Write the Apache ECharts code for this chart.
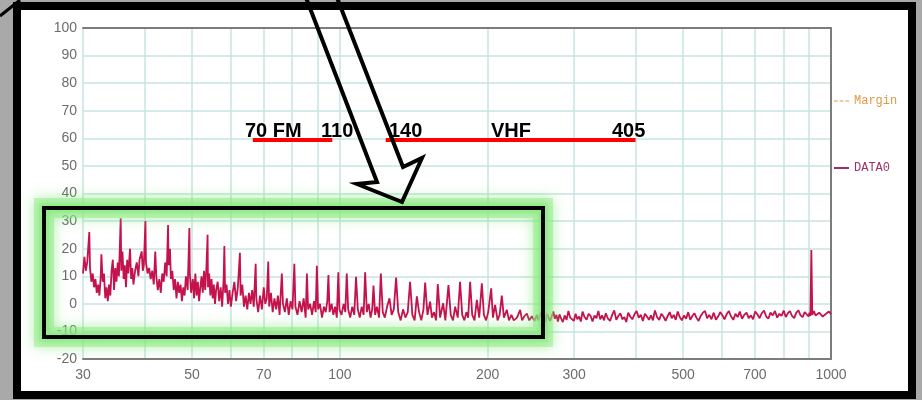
<!DOCTYPE html>
<html><head><meta charset="utf-8">
<script src="https://cdn.jsdelivr.net/npm/echarts@6/dist/echarts.min.js"></script>
<style>html,body{margin:0;padding:0;background:#a9a9a9;}#c{width:922px;height:400px;}</style>
</head><body><div id="c"></div>
<script>
// ---- data ----
const yMin = -20, yMax = 100, yStep = 10;
const xMin = 30, xMax = 1000;
const xGridValues = [30,40,50,60,70,80,90,100,200,300,400,500,600,700,800,900,1000];
const xLabelValues = [30,50,70,100,200,300,500,700,1000];
const legendNames = ['Margin','DATA0'];
const marginData = [];
// [frequency MHz, level dB]
const data0 = [
[30.0,11],[30.2,17],[30.4,12],[30.6,15],[30.9,26],[31.0,13],[31.2,8],[31.4,11],[31.6,6],[31.8,9],
[32.0,4],[32.2,7],[32.4,3],[32.6,10],[32.7,18],[32.9,8],[33.1,11],[33.3,2],[33.5,6],[33.7,1],
[33.9,7],[34.1,3],[34.3,12],[34.5,16],[34.7,5],[34.9,13],[35.1,8],[35.3,15],[35.5,10],[35.8,31],
[35.9,12],[36.1,19],[36.3,9],[36.5,14],[36.7,6],[36.9,16],[37.1,11],[37.4,20],[37.6,9],[37.8,13],
[38.0,7],[38.3,12],[38.6,15],[38.9,10],[39.1,16],[39.5,19],[39.7,12],[39.9,14],[40.2,30],[40.3,15],
[40.6,11],[40.9,13],[41.2,9],[41.5,12],[41.8,7],[42.1,19],[42.3,10],[42.6,5],[42.9,9],[43.2,4],
[43.5,11],[43.8,8],[44.1,15],[44.4,10],[44.7,28.6],[44.8,14],[45.1,20],[45.3,9],[45.6,12],[45.9,5],
[46.2,9],[46.5,2],[46.8,8],[47.1,4],[47.4,7],[47.7,1],[48.0,6],[48.3,3],[48.6,10],[49.0,5],
[49.4,27.5],[49.5,11],[49.8,4],
[50.2,9],[50.5,2],[50.8,11],[51.1,3],[51.4,8],[51.7,1],[52.0,6],[52.3,10],[52.6,4],[52.9,12],
[53.2,5],[53.5,13],[53.8,25],[53.9,6],[54.2,11],[54.5,3],[54.8,9],[55.1,2],[55.4,7],[55.7,0],
[56.0,5],[56.4,8],[56.8,1],[57.2,6],[57.6,-1],[58.0,9],[58.2,21],[58.4,4],[58.8,7],[59.2,0],
[59.6,5],[60.0,-1],[60.5,4],[61.0,8],[61.5,1],[62.0,6],[62.6,18.5],[62.8,3],[63.3,7],[63.8,-1],
[64.3,3],[64.8,-2],[65.3,4],[65.8,0],[66.3,5],[66.8,-1],[67.4,14.5],[67.6,2],[68.2,-3],[68.8,3],
[69.4,-2],[70.0,6],[70.5,0],[71.0,2],[71.5,15.3],[71.8,-1],[72.4,4],[73.0,-3],[73.6,2],[74.2,-2],
[74.8,3],[75.4,-4],[76.2,11],[76.6,0],[77.3,-3],[78.0,2],[78.7,-4],[79.4,1],[80.1,-2],[80.8,14.5],
[81.2,-1],[82.0,-4],[82.8,1],[83.6,-3],[84.4,2],[85.2,-5],[85.7,11],[86.2,-2],[87.0,0],[87.8,-4],
[88.6,1],[89.3,-3],[89.8,13.8],[90.3,-2],[91.1,0],[92.0,-5],[92.8,-1],[93.6,-3],[94.3,1],[94.8,10.4],
[95.3,-3],[96.2,0],[97.0,-4],[97.8,-1],[98.6,-5],[99.3,11.4],[99.8,-2],
[100.8,-4],[101.8,0],[102.6,-3],[103.3,11],[104.0,-2],[105.0,-5],[106.0,-1],[107.0,-4],[107.9,9.8],[108.8,-2],
[109.8,-5],[110.8,-1],[111.8,-4],[112.6,11.4],[113.5,-3],[114.5,0],[115.5,-5],[116.4,-2],[117.1,6.6],[118.0,-4],
[119.0,-1],[120.2,-5],[121.2,11],[122.3,-3],[123.5,-5],[124.8,-1],[126.2,2],[127.5,-4],[128.8,-2],[130.2,9.5],
[131.5,-3],[133.0,-6],[134.5,-2],[136.0,-5],[137.5,-3],[139.0,8],[140.5,-4],[142.0,-6],[143.5,2.7],[145.0,-3],
[146.5,-6],[148.0,-2],[149.2,7.7],[150.8,-4],[152.7,0.8],[154.0,-5],[155.5,-3],[157.0,-6],[158.3,7.2],[160.0,-5],
[162.3,0.2],[164.0,-6],[166.4,6.8],[168.2,-4],[170.0,-6],[171.7,-1],[173.8,-5],[175.7,8],[177.5,-4],[179.3,-6],
[181.0,-3],[182.5,-5],[184.2,8],[186.0,-4],[188.0,-6],[190.1,1.4],[192.2,-5],[194.6,7.4],[196.5,-4],[198.5,-6],
[200.5,-3],[203.3,5.6],[205.0,-5],[207.1,-0.4],[209.5,-6],[211.5,-4],[213.7,3],[215.8,-5],[218.8,-2.2],[221.0,-6],
[223.5,-4],[226.0,-6],[229.5,-5],[232.9,-2.2],[235.0,-6],[237.5,-4.5],[240.3,-3.5],[243.0,-6],[246.0,-4.5],[249.0,-6.2],
[252,-4],[253.5,-6],[255,-4.8],[256.5,-3.2],[258,-5.2],[260,-4.4],[262,-6.8],[264,-3.6],[266,-5],[268,-6.2],
[270,-4.6],[272,-2.8],[274,-5.4],[276,-4],[278,-6.4],[280,-3.8],[282,-5.2],[284.5,-6.6],[287,-4.2],[289.5,-5.8],
[292,-2.6],[294.5,-5],[297,-4.4],[299.5,-6.2],[302,-3.6],[304.5,-5.6],[307,-4.6],[309.5,-6.4],[312,-2.8],[315,-4.8],
[318,-5.8],[321,-3.6],[324,-4.4],[327,-6.4],[330,-4.2],[333,-5.2],[336,-2.6],[339,-5.6],[342,-4.2],[345,-6],
[348,-3.4],[351.5,-5.4],[355,-6.2],[358.5,-4],[362,-2.4],[365.5,-5.8],[369,-4.4],[372.5,-3.4],[376,-5.6],[379.5,-4.8],
[383,-6.6],[386.5,-3.2],[390,-4.6],[394,-5.6],[398,-3.8],[402,-2.6],[406,-5],[410,-4],[414,-6.2],[418,-3.6],
[422,-4.6],[426,-5.8],[430,-4.2],[434,-6],[438,-2.4],[442.5,-4.8],[447,-5.8],[451.5,-3.6],[456,-4.6],[460.5,-6.2],
[465,-4.4],[469.5,-3],[474,-5.2],[478.5,-4],[483,-5.8],[487.5,-2.8],[492,-4.8],[497,-6],[502,-4.2],[507,-5.4],
[512,-3],[517,-5.8],[522,-4.4],[527,-3.4],[532,-5],[537.5,-6.2],[543,-4.4],[548.5,-3.2],[554,-2.6],[559.5,-5.2],
[565,-4],[571,-5.6],[577,-3.2],[583,-5.8],[589,-4.6],[595,-3],[601,-4.2],[607,-5.6],[613,-3.8],[619.5,-2.6],
[626,-4.6],[632.5,-5.8],[639,-3.6],[645.5,-4.8],[652,-2.8],[659,-5.4],[666,-4],[673,-3.2],[680,-5.2],[687,-4.2],
[694,-5.6],[701,-2.8],[708,-3.8],[715.5,-5.2],[723,-3.4],[730.5,-2.4],[738,-4.6],[745.5,-5.4],[753,-3.2],[761,-4.2],
[769,-2.6],[777,-5],[785,-3.6],[793,-4.4],[801,-2.4],[809,-4.8],[817,-3.4],[825,-2.6],[833,-4.4],[841.5,-5.2],
[850,-3.2],[858.5,-2.4],[867,-4.2],[875.5,-4.8],[884,-3],[892,-2.6],[900,-4.6],[904,-3.2],[908,-4.4],[912,19.5],
[916,-4],[923,-2.6],[930,-4.2],[938,-4.8],[946,-3.2],[954,-2.8],[962,-4.6],[971,-5.2],[980,-3.4],[990,-2.8],[1000,-3.8]
];
// annotation bands (MHz) drawn at a level
const bandLevel = 59.6;
const fmBand = [66.5, 96.5];
const vhfBand = [124, 400];
const bandTexts = ['70 FM', '110', '140', 'VHF', '405'];

// ---- chart ----
const chart = echarts.init(document.getElementById('c'), null, {renderer:'canvas'});
const gridColor = '#c6e4e2';
const labelColor = '#6c6c6c';
const labelFont = 'Liberation Sans';
const marginColor = '#e09a45';
const dataColor = '#9c3068';

const option = {
  animation: false,
  backgroundColor: 'transparent',
  grid: {left: 83, right: 91, top: 28, bottom: 41},
  legend: {
    orient: 'vertical', left: 834, top: 95, itemGap: 55, padding: 0,
    itemWidth: 15, itemHeight: 2,
    textStyle: {fontSize: 12, fontFamily: 'Liberation Mono'},
    data: [
      {name: legendNames[0], icon: 'path://M0,0h4v1h-4z M6,0h4v1h-4z M12,0h4v1h-4z',
        itemStyle: {color: marginColor}, textStyle: {color: marginColor}},
      {name: legendNames[1], icon: 'rect', itemStyle: {color: dataColor}, textStyle: {color: dataColor}}
    ]
  },
  xAxis: [{
    type: 'log', logBase: 10, min: xMin, max: xMax,
    axisLine: {show: true, onZero: false, lineStyle: {color: '#7c7c7c', width: 2}},
    axisTick: {show: false, customValues: xGridValues},
    axisLabel: {customValues: xLabelValues, formatter: v => String(v),
      color: labelColor, fontSize: 14, fontFamily: labelFont, margin: 9},
    splitLine: {show: true, lineStyle: {color: gridColor, width: 1.5}}
  }, {
    type: 'log', logBase: 10, min: xMin, max: xMax, position: 'top',
    axisLine: {show: true, onZero: false, lineStyle: {color: '#7c7c7c', width: 2}},
    axisTick: {show: false}, axisLabel: {show: false}, splitLine: {show: false}
  }],
  yAxis: [{
    type: 'value', min: yMin, max: yMax, interval: yStep,
    axisLine: {show: false}, axisTick: {show: false},
    axisLabel: {color: labelColor, fontSize: 14, fontFamily: labelFont, margin: 6},
    splitLine: {show: true, lineStyle: {color: gridColor, width: 1.5}}
  }, {
    type: 'value', min: yMin, max: yMax, interval: yStep, position: 'right',
    axisLine: {show: true, onZero: false, lineStyle: {color: '#7c7c7c', width: 2}},
    axisTick: {show: false}, axisLabel: {show: false}, splitLine: {show: false}
  }],
  series: [{
    name: legendNames[0], type: 'line', data: marginData, symbol: 'none',
    color: marginColor, lineStyle: {type: 'dashed', width: 1.5, color: marginColor}
  }, {
    name: legendNames[1], type: 'line', data: data0, symbol: 'none',
    color: dataColor,
    lineStyle: {color: '#c4124c', width: 1.8},
    markLine: {
      silent: true, symbol: ['none','none'], label: {show: false},
      lineStyle: {color: '#ff0000', width: 4, type: 'solid'},
      emphasis: {disabled: true},
      data: [
        [{coord: [fmBand[0], bandLevel]}, {coord: [fmBand[1], bandLevel]}],
        [{coord: [vhfBand[0], bandLevel]}, {coord: [vhfBand[1], bandLevel]}]
      ]
    }
  }]
};
chart.setOption(option);

// ---- annotations (frame, glow box, arrow, texts) ----
const txtStyle = (t, x) => ({type: 'text', z: 120, left: x, top: 121,
  style: {text: t, fill: '#000', font: 'bold 20px "Liberation Sans"'}});
chart.setOption({
  graphic: [
    {type: 'rect', z: -10, shape: {x: 17, y: 6, width: 895, height: 389},
      style: {fill: '#fff', stroke: '#000', lineWidth: 8}},
    {type: 'line', z: 100, shape: {x1: 0, y1: 16, x2: 20, y2: 0}, style: {stroke: '#000', lineWidth: 3}},
    // glow box
    {type: 'rect', z: 90, shape: {x: 44, y: 208, width: 499, height: 129},
      style: {fill: null, stroke: 'rgba(150,235,140,0.5)', lineWidth: 20,
        shadowBlur: 14, shadowColor: 'rgba(110,228,100,0.95)'}},
    {type: 'rect', z: 90, shape: {x: 44, y: 208, width: 499, height: 129},
      style: {fill: null, stroke: 'rgba(140,232,130,0.4)', lineWidth: 10,
        shadowBlur: 8, shadowColor: 'rgba(110,228,105,0.9)'}},
    {type: 'rect', z: 91, shape: {x: 44, y: 208, width: 499, height: 129},
      style: {fill: null, stroke: '#000', lineWidth: 4}},
    // arrow
    {type: 'polyline', z: 110, shape: {points: [[303,-10],[377,182],[357,184],[402,202],[422,158],[403,167],[334,-10]]},
      style: {fill: null, stroke: '#000', lineWidth: 4, lineJoin: 'miter'}},
    txtStyle(bandTexts[0], 245), txtStyle(bandTexts[1], 321), txtStyle(bandTexts[2], 389),
    txtStyle(bandTexts[3], 491), txtStyle(bandTexts[4], 612)
  ]
});
</script></body></html>
